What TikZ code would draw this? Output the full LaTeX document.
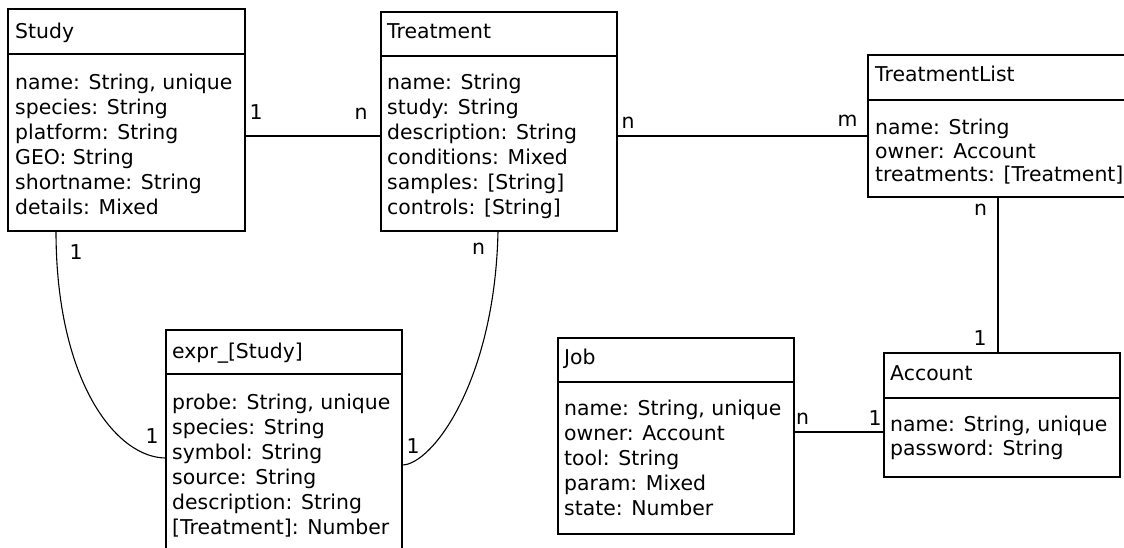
\documentclass[tikz,border=0pt]{standalone}
\usepackage{fontspec}
\setmainfont{DejaVu Sans}
\newcommand\umlfont{\fontsize{20.4}{25}\selectfont}
% attribute block: rows set as a top-aligned tabular, first baseline on the anchor
\newcommand\fieldrows[2]{\def\arraystretch{#1}\begin{tabular}[t]{@{}l@{}}#2\end{tabular}}
\tikzset{
  classbox/.style={draw, line width=1.1pt, anchor=north west, inner sep=0pt, outer sep=0pt, rectangle},
  classtext/.style={anchor=base west, inner sep=0pt, font=\umlfont},
  mult/.style={anchor=base, inner sep=0pt, font=\umlfont},
  wire/.style={line width=1.1pt},
}
\begin{document}
\begin{tikzpicture}[x=1pt, y=-1pt]
\useasboundingbox (0,0) rectangle (1124,547);
\fill[white] (0,0) rectangle (1124,547);
\clip (0,0) rectangle (1124,547);

% helper levels for the connectors
\coordinate (y136) at (0,136);
\coordinate (y432) at (0,432);
\coordinate (y458) at (0,458);
\coordinate (y465) at (0,465);
\coordinate (x56) at (56,0);
\coordinate (x498) at (498,0);
\coordinate (x998) at (998,0);

% ---- Study
\node[classbox, minimum width=237pt, minimum height=222pt] (study) at (8,9) {};
\draw[wire] ([yshift=-45pt]study.north west) -- ([yshift=-45pt]study.north east);
\node[classtext] (study-t) at (15,38.3) {Study};
\node[classtext] (study-f) at (15,89.3) {\fieldrows{1}{name: String, unique\\ species: String\\ platform: String\\ GEO: String\\ shortname: String\\ details: Mixed}};

% ---- Treatment
\node[classbox, minimum width=236pt, minimum height=219pt] (treat) at (381,12) {};
\draw[wire] ([yshift=-44pt]treat.north west) -- ([yshift=-44pt]treat.north east);
\node[classtext] (treat-t) at (387,38.3) {Treatment};
\node[classtext] (treat-f) at (387,89.3) {\fieldrows{1}{name: String\\ study: String\\ description: String\\ conditions: Mixed\\ samples: [String]\\ controls: [String]}};

% ---- TreatmentList
\node[classbox, minimum width=262pt, minimum height=142pt] (tlist) at (868,55) {};
\draw[wire] ([yshift=-45pt]tlist.north west) -- ([yshift=-45pt]tlist.north east);
\node[classtext] (tlist-t) at (875,81.7) {TreatmentList};
\node[classtext] (tlist-f) at (875,134.5) {\fieldrows{0.94}{name: String\\ owner: Account\\ treatments: [Treatment]}};

% ---- expr_[Study]
\node[classbox, minimum width=236pt, minimum height=240pt] (expr) at (166,330) {};
\draw[wire] ([yshift=-44pt]expr.north west) -- ([yshift=-44pt]expr.north east);
\node[classtext] (expr-t) at (172,358) {expr\_[Study]};
\node[classtext] (expr-f) at (172,409) {\fieldrows{1}{probe: String, unique\\ species: String\\ symbol: String\\ source: String\\ description: String\\ {[}Treatment{]}: Number}};

% ---- Job
\node[classbox, minimum width=236pt, minimum height=196pt] (job) at (558,338) {};
\draw[wire] ([yshift=-44pt]job.north west) -- ([yshift=-44pt]job.north east);
\node[classtext] (job-t) at (564,364) {Job};
\node[classtext] (job-f) at (564,415.7) {\fieldrows{1}{name: String, unique\\ owner: Account\\ tool: String\\ param: Mixed\\ state: Number}};

% ---- Account
\node[classbox, minimum width=236pt, minimum height=124pt] (acct) at (884,353) {};
\draw[wire] ([yshift=-45pt]acct.north west) -- ([yshift=-45pt]acct.north east);
\node[classtext] (acct-t) at (890,380) {Account};
\node[classtext] (acct-f) at (890,431) {\fieldrows{0.96}{name: String, unique\\ password: String}};

% ---- associations
\draw[wire] (study.east |- y136) -- (treat.west |- y136);
\draw[wire] (treat.east |- y136) -- (tlist.west |- y136);
\draw[wire] (tlist.south -| x998) -- (acct.north -| x998);
\draw[wire] (job.east |- y432) -- (acct.west |- y432);
\draw[wire] (study.south -| x56) .. controls +(0,150) and +(-50,0) .. (expr.west |- y458);
\draw[wire] (treat.south -| x498) .. controls +(-3,150) and +(30,0) .. (expr.east |- y465);

% ---- multiplicities
\node[mult] (m-st1) at (256,119.5) {1};
\node[mult] (m-st2) at (361,119.5) {n};
\node[mult] (m-tl1) at (628,128) {n};
\node[mult] (m-tl2) at (847.5,126) {m};
\node[mult] (m-la1) at (980.5,215) {n};
\node[mult] (m-la2) at (980,345) {1};
\node[mult] (m-ja1) at (802.5,424) {n};
\node[mult] (m-ja2) at (875,425) {1};
\node[mult] (m-se1) at (76,259) {1};
\node[mult] (m-se2) at (152,443) {1};
\node[mult] (m-te1) at (478.5,254) {n};
\node[mult] (m-te2) at (413,453) {1};
\end{tikzpicture}
\end{document}
